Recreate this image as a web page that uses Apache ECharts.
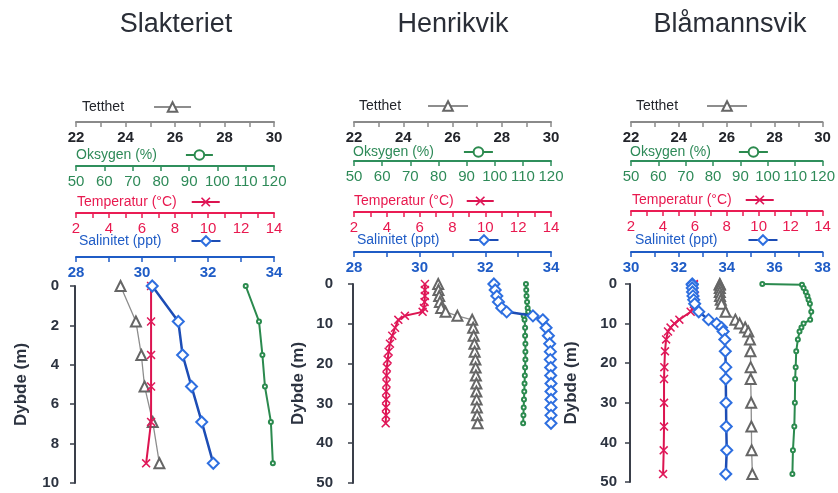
<!DOCTYPE html>
<html><head><meta charset="utf-8">
<script src="https://cdn.jsdelivr.net/npm/echarts@6/dist/echarts.min.js"></script>
<style>html,body{margin:0;padding:0;background:#fff}#c{width:838px;height:493px}</style>
</head><body><div id="c"></div>
<script>
// ---------- DATA ----------
const titles = ['Slakteriet', 'Henrikvik', 'Blåmannsvik'];
const seriesNames = ['Tetthet', 'Oksygen (%)', 'Temperatur (°C)', 'Salinitet (ppt)'];

// Slakteriet
const depth1   = [0, 1.8, 3.5, 5.1, 6.9, 9.0];
const tetthet1 = [23.8, 24.42, 24.64, 24.77, 25.1, 25.37];
const oksygen1 = [110, 114.7, 115.9, 116.8, 118.9, 119.6];
const temp1    = [6.55, 6.55, 6.55, 6.55, 6.55, 6.25];
const salin1   = [30.31, 31.10, 31.23, 31.50, 31.81, 32.16];

// Henrikvik
const depth2   = [0, 1.5, 3, 4.5, 6, 7, 8, 9, 11, 13, 15, 17, 19, 21, 23, 25, 27, 29, 31, 33, 35];
const tetthet2 = [25.42, 25.43, 25.46, 25.49, 25.54, 25.72, 26.2, 26.8, 26.84, 26.86, 26.89, 26.9, 26.93, 26.94, 26.95, 26.97, 26.97, 26.98, 26.99, 27.0, 27.02];
const oksygen2 = [111.1, 111.2, 111.3, 111.5, 111.7, 111.9, 110.3, 110.6, 110.8, 110.8, 110.9, 110.9, 110.9, 110.8, 110.7, 110.6, 110.5, 110.4, 110.3, 110.2, 110.1];
const temp2    = [6.32, 6.32, 6.32, 6.30, 6.26, 6.18, 5.1, 4.7, 4.5, 4.33, 4.19, 4.11, 4.05, 4.0, 3.98, 3.98, 3.96, 3.96, 3.95, 3.95, 3.93];
const salin2   = [32.26, 32.30, 32.35, 32.40, 32.50, 32.65, 33.45, 33.75, 33.85, 33.92, 33.96, 33.98, 33.98, 33.99, 33.99, 34.0, 34.0, 34.0, 34.0, 34.0, 34.0];

// Blåmannsvik
const depth3   = [0, 0.2, 1, 2, 3, 4, 5, 7, 9, 10, 11, 12, 14, 17, 21, 24, 30, 36, 42, 48];
const tetthet3 = [25.71, 25.71, 25.71, 25.71, 25.72, 25.75, 25.78, 25.95, 26.36, 26.54, 26.77, 26.9, 26.97, 26.99, 27.0, 27.0, 27.02, 27.03, 27.04, 27.07];
const oksygen3 = [98.0, 112.5, 113.1, 113.9, 114.5, 114.9, 115.4, 115.9, 115.5, 113.1, 112.3, 111.6, 111.0, 110.4, 110.2, 110.0, 109.9, 109.7, 109.2, 109.0];
const temp3    = [5.94, 5.94, 5.94, 5.94, 6.0, 6.0, 5.94, 5.74, 5.03, 4.72, 4.48, 4.32, 4.2, 4.13, 4.09, 4.07, 4.07, 4.07, 4.05, 4.01];
const salin3   = [32.56, 32.56, 32.56, 32.57, 32.59, 32.62, 32.66, 32.83, 33.24, 33.58, 33.78, 33.85, 33.92, 33.94, 33.96, 33.96, 33.97, 33.98, 34.0, 33.96];

// Tick labels
const tetthetTicks = [22, 24, 26, 28, 30];
const oksygenTicks = [50, 60, 70, 80, 90, 100, 110, 120];
const tempTicks    = [2, 4, 6, 8, 10, 12, 14];
const salinTicks1  = [28, 30, 32, 34];
const salinTicks3  = [30, 32, 34, 36, 38];
const depthTicks1  = [0, 2, 4, 6, 8, 10];
const depthTicks2  = [0, 10, 20, 30, 40, 50];

// ---------- LAYOUT / STYLE ----------
const FONT = 'Liberation Sans, Arial, Helvetica, sans-serif';
const panels = [
  {depth: depth1, vals: [tetthet1, oksygen1, temp1, salin1], salTicks: salinTicks1, depthTicks: depthTicks1,
   grid: {left: 76, top: 286, width: 198, height: 197}, offs: [164, 120, 73, 29],
   yNameGap: 45, yLabelMargin: 16, titleX: 176,
   leg: [[82, 100, 25, 37], [76, 148, 24, 27], [77, 195, 10, 28], [79, 234, 25, 29]]},
  {depth: depth2, vals: [tetthet2, oksygen2, temp2, salin2], salTicks: salinTicks1, depthTicks: depthTicks2,
   grid: {left: 354, top: 284, width: 197, height: 199}, offs: [162, 123, 72, 32],
   yNameGap: 46, yLabelMargin: 20, titleX: 453,
   leg: [[359, 99, 22, 40], [353, 145, 25, 29], [354, 194, 8, 27], [357, 233, 25, 29]]},
  {depth: depth3, vals: [tetthet3, oksygen3, temp3, salin3], salTicks: salinTicks3, depthTicks: depthTicks2,
   grid: {left: 631, top: 284, width: 198, height: 198}, offs: [162, 123, 73, 32],
   yNameGap: 50, yLabelMargin: 13, titleX: 730,
   leg: [[636, 99, 24, 40], [630, 145, 23, 29], [632, 193, 9, 28], [635, 233, 26, 29]]}
];

const X_PATH = 'path://M0,1.2 L1.2,0 L5,3.8 L8.8,0 L10,1.2 L6.2,5 L10,8.8 L8.8,10 L5,6.2 L1.2,10 L0,8.8 L3.8,5 Z';
const sStyles = [
  {axisColor: '#8a8a8a', labelColor: '#23252b', labelWeight: 'bold', legColor: '#23252b',
   line: '#8d8d8d', lw: 1.3, symbol: 'emptyTriangle', size: 10, sym: '#666', bw: 1.2, z: 3},
  {axisColor: '#2f8f5c', labelColor: '#2e8a58', labelWeight: 'normal', legColor: '#2e8a58',
   line: '#2b8a4e', lw: 2, symbol: 'emptyCircle', size: 4, sym: '#2b8a4e', bw: 2, z: 2},
  {axisColor: '#ea1c54', labelColor: '#e8194f', labelWeight: 'normal', legColor: '#e8194f',
   line: '#dc1450', lw: 2, symbol: X_PATH, size: 9, sym: '#e0185a', bw: 0, z: 4},
  {axisColor: '#1f5cc6', labelColor: '#1f5cc6', labelWeight: 'bold', legColor: '#1f5cc6',
   line: '#1d4db5', lw: 2.5, symbol: 'emptyDiamond', size: 11, sym: '#2e6fe0', bw: 1.3, z: 5}
];

const option = {
  animation: false,
  backgroundColor: '#fff',
  textStyle: {fontFamily: FONT},
  title: [], grid: [], xAxis: [], yAxis: [], series: [], legend: []
};

panels.forEach((p, pi) => {
  option.title.push({text: titles[pi], left: p.titleX, top: 11, textAlign: 'center', padding: 0,
    textStyle: {fontFamily: FONT, fontSize: 27, fontWeight: 'normal', color: '#2a2e37'}});
  option.grid.push(Object.assign({containLabel: false}, p.grid));

  const ranges = [
    {min: 22, max: 30, interval: 1, ticks: tetthetTicks},
    {min: 50, max: 120, interval: 10, ticks: oksygenTicks},
    {min: 2, max: 14, interval: 1, ticks: tempTicks},
    {min: p.salTicks[0], max: p.salTicks[p.salTicks.length - 1], interval: 1, ticks: p.salTicks}
  ];
  ranges.forEach((r, k) => {
    const st = sStyles[k];
    option.xAxis.push({
      type: 'value', gridIndex: pi, position: 'top', offset: p.offs[k],
      min: r.min, max: r.max, interval: r.interval,
      axisLine: {show: true, onZero: false, lineStyle: {color: st.axisColor, width: 2}},
      axisTick: {show: true, inside: true, length: 5, lineStyle: {color: st.axisColor, width: 1.5}},
      axisLabel: {inside: true, margin: 8, color: st.labelColor, fontSize: 15, fontFamily: FONT,
        fontWeight: st.labelWeight, showMinLabel: true, showMaxLabel: true,
        formatter: v => (r.ticks.indexOf(v) >= 0 ? String(v) : '')},
      splitLine: {show: false}
    });
  });

  const dMax = p.depthTicks[p.depthTicks.length - 1];
  option.yAxis.push({
    type: 'value', gridIndex: pi, inverse: true, min: 0, max: dMax, interval: p.depthTicks[1] - p.depthTicks[0],
    position: 'left', offset: 1,
    name: 'Dybde (m)', nameLocation: 'middle', nameGap: p.yNameGap,
    nameTextStyle: {fontSize: 17, fontWeight: 'bold', color: '#2c3340', fontFamily: FONT},
    axisLine: {show: true, onZero: false, lineStyle: {color: '#3a3f4a', width: 2}},
    axisTick: {show: true, length: 5, lineStyle: {color: '#3a3f4a', width: 1.5}},
    axisLabel: {margin: p.yLabelMargin, fontSize: 15, fontWeight: 'bold', color: '#2c3340', fontFamily: FONT},
    splitLine: {show: false}
  });

  seriesNames.forEach((nm, k) => {
    const st = sStyles[k];
    option.series.push({
      type: 'line', name: nm, xAxisIndex: pi * 4 + k, yAxisIndex: pi,
      data: p.vals[k].map((v, i) => [v, p.depth[i]]),
      symbol: st.symbol, symbolSize: st.size, showSymbol: true, showAllSymbol: true,
      z: st.z, clip: false,
      lineStyle: {color: st.line, width: st.lw},
      itemStyle: {color: st.sym, borderColor: st.sym, borderWidth: st.bw},
      emphasis: {disabled: true}
    });
    const lg = p.leg[k];
    option.legend.push({
      data: [nm], left: lg[0], top: lg[1], padding: 0, align: 'right',
      itemWidth: lg[3], itemHeight: 12, selectedMode: false,
      textStyle: {color: st.legColor, fontSize: 14, fontFamily: FONT, padding: [0, lg[2], 0, 0]}
    });
  });
});

const chart = echarts.init(document.getElementById('c'), null, {renderer: 'canvas'});
chart.setOption(option);
</script>
</body></html>
